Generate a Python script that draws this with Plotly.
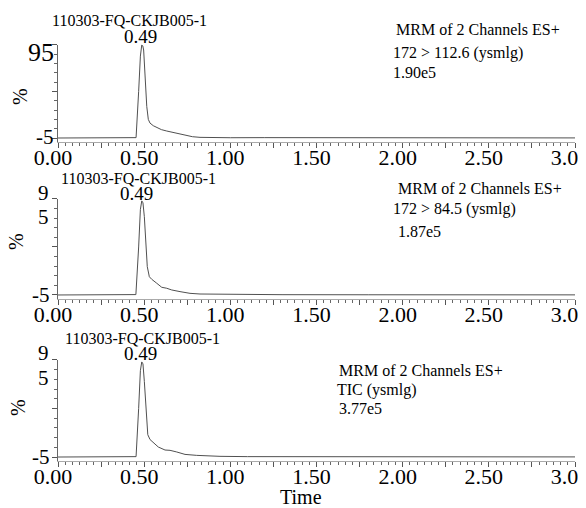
import plotly.graph_objects as go

# ---------------- data (displayed axis units: baseline = -5, top = 95) ----------------
t1 = [0.00, 0.45, 0.453, 0.468, 0.478, 0.486, 0.492, 0.497, 0.505, 0.515, 0.524, 0.534,
      0.553, 0.575, 0.60, 0.631, 0.66, 0.689, 0.72, 0.747, 0.78, 0.824, 0.90, 1.00, 1.20,
      1.50, 1.80, 2.20, 2.60, 3.00]
y1 = [-5.0, -5.0, -4.6, 45.0, 83.0, 95.0, 94.0, 89.6, 57.0, 29.0, 15.0, 11.0,
      8.2, 5.8, 4.0, 2.5, 1.3, 0.2, -1.8, -2.8, -3.6, -4.3, -4.6, -4.7, -4.6,
      -4.6, -4.8, -4.8, -4.9, -4.9]

t2 = [0.00, 0.449, 0.452, 0.468, 0.478, 0.486, 0.493, 0.501, 0.511, 0.518, 0.530, 0.544,
      0.573, 0.602, 0.631, 0.66, 0.708, 0.766, 0.824, 0.911, 1.00, 1.30, 1.80, 2.40, 3.00]
y2 = [-5.0, -5.0, -4.6, 45.0, 84.0, 93.0, 91.0, 76.6, 52.0, 24.5, 14.0, 11.3,
      7.2, 3.0, 2.0, 0.2, -1.5, -3.3, -4.0, -4.0, -4.5, -4.7, -4.8, -4.9, -4.9]

t3 = [0.00, 0.450, 0.453, 0.468, 0.478, 0.486, 0.493, 0.501, 0.511, 0.521, 0.534, 0.553,
      0.582, 0.621, 0.65, 0.689, 0.737, 0.805, 0.882, 0.94, 1.10, 1.50, 2.00, 2.50, 3.00]
y3 = [-5.0, -5.0, -4.6, 45.0, 84.0, 93.0, 91.0, 73.0, 46.0, 18.0, 13.0, 9.7,
      5.3, 2.2, 1.9, 0.2, -2.3, -3.3, -4.0, -4.3, -4.6, -4.7, -4.8, -4.9, -4.9]

x_tick_vals = [0.0, 0.25, 0.5, 0.75, 1.0, 1.25, 1.5, 1.75, 2.0, 2.25, 2.5, 2.75, 3.0]
x_tick_text = ["0.00", "", "0.50", "", "1.00", "", "1.50", "", "2.00", "", "2.50", "", "3.00"]

sample_name = "110303-FQ-CKJB005-1"
peak_label = "0.49"
header = "MRM of 2 Channels ES+"
channels = ["172 > 112.6 (ysmlg)", "172 > 84.5 (ysmlg)", "TIC (ysmlg)"]
intensities = ["1.90e5", "1.87e5", "3.77e5"]

# ---------------- layout helpers ----------------
OFF = 8            # default page body margin
W, H = 586 - OFF, 508 - OFF
FONT = "Liberation Serif, Times New Roman, serif"


def px(x):
    return (x - OFF) / W


def py(y):
    return 1 - (y - OFF) / H


# (domain top px, axis bottom px, y-range)  -- in window pixels
panels = [
    (44.5, 142, [-9.3, 95.5]),
    (198.5, 299, [-9.2, 95.5]),
    (359.5, 461, [-9.1, 95.5]),
]

fig = go.Figure()
traces = [(t1, y1), (t2, y2), (t3, y3)]
for i, (tt, yy) in enumerate(traces):
    sfx = "" if i == 0 else str(i + 1)
    fig.add_trace(go.Scatter(x=tt, y=yy, mode="lines",
                             line=dict(color="#505050", width=1),
                             xaxis="x" + sfx, yaxis="y" + sfx,
                             showlegend=False, hoverinfo="skip"))

layout = dict(template="none", width=W, height=H,
              margin=dict(l=0, r=0, t=0, b=0, pad=0, autoexpand=False),
              paper_bgcolor="white", plot_bgcolor="white",
              font=dict(family=FONT, color="black"), showlegend=False)

for i, (top, bot, yr) in enumerate(panels):
    sfx = "" if i == 0 else str(i + 1)
    layout["xaxis" + sfx] = dict(
        domain=[px(58), px(575)], range=[0, 3], anchor="y" + sfx,
        automargin=False,
        tickmode="array", tickvals=x_tick_vals, ticktext=x_tick_text,
        ticks="outside", ticklen=5, tickcolor="#555", tickwidth=1,
        showline=True, linecolor="#aaa", linewidth=1,
        showgrid=False, zeroline=False,
        ticklabeloverflow="allow", ticklabelstandoff=-9, ticklabelshift=-5,
        tickfont=dict(family=FONT, size=22, color="black"),
        minor=dict(ticks="outside", ticklen=3, tickcolor="#666",
                   tick0=0, dtick=0.25 / 6, showgrid=False),
    )
    layout["yaxis" + sfx] = dict(
        domain=[py(bot), py(top)], range=yr, anchor="x" + sfx,
        automargin=False,
        tickmode="linear", tick0=-5, dtick=50,
        ticks="outside", ticklen=5, tickcolor="#555",
        showline=True, linecolor="#666", linewidth=1,
        showticklabels=False, showgrid=False, zeroline=False,
        minor=dict(ticks="outside", ticklen=3, tickcolor="#666",
                   tick0=-5, dtick=10, showgrid=False),
    )
fig.update_layout(**layout)

ann = []


def add(text, x, y, size, xanchor="left", angle=0):
    ann.append(dict(text=text, x=px(x), y=py(y), xref="paper", yref="paper",
                    xanchor=xanchor, yanchor="middle", showarrow=False,
                    textangle=angle,
                    font=dict(family=FONT, size=size, color="black")))


# sample names and peak labels
add(sample_name, 130, 20, 16, "center")
add(peak_label, 140, 36, 19, "center")
add(sample_name, 138, 178, 16, "center")
add(peak_label, 136, 193, 19, "center")
add(sample_name, 142, 338, 16, "center")
add(peak_label, 140, 353, 19, "center")

# y tick labels
add("95", 56, 53, 26, "right")
add("-5", 56, 137, 21, "right")
add("9", 51, 193, 21, "right")
add("5", 51, 217, 21, "right")
add("-5", 52, 295, 21, "right")
add("9", 51, 353, 21, "right")
add("5", 51, 378, 21, "right")
add("-5", 52, 457, 21, "right")

# % labels
add("%", 20, 97, 20, "center", -90)
add("%", 16, 242, 20, "center", -90)
add("%", 18, 408, 20, "center", -90)

# right-hand info texts
add(header, 394, 29, 16)
add(channels[0], 391, 53, 16)
add(intensities[0], 391, 72, 16)
add(header, 396, 188, 16)
add(channels[1], 391, 209, 16)
add(intensities[1], 396, 232, 16)
add(header, 337, 370, 16)
add(channels[2], 335, 390, 16)
add(intensities[2], 337, 408, 16)

# x axis title
add("Time", 301, 497, 20, "center")

fig.update_layout(annotations=ann)
fig.write_html("out.html")
